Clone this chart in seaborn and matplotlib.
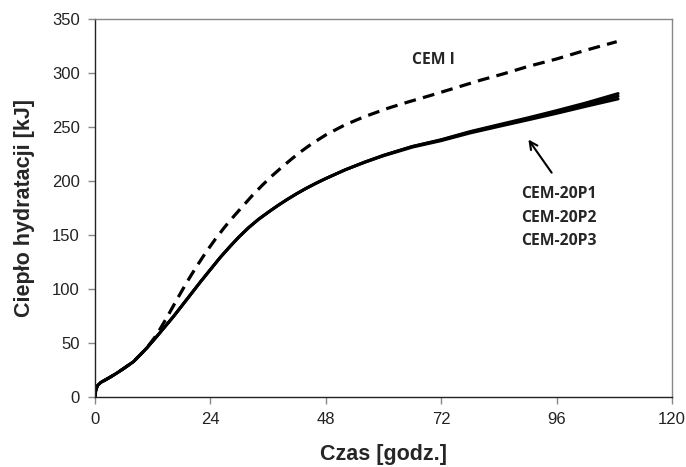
import matplotlib
matplotlib.use("Agg")
import matplotlib.pyplot as plt
import seaborn as sns
import pandas as pd

# Hydration heat curves (time in hours, heat in kJ)
time_blend = [0, 0.15, 0.5, 1.2, 2.1, 3.2, 4.5, 6, 8, 10.7, 12.8, 16.3, 19.8,
              22, 24, 26, 28, 30, 32, 34, 36, 38, 40, 42, 44, 46, 48, 52, 56,
              60, 66, 72, 78, 84, 90, 96, 102, 108.8]
heat_p1 = [0, 6, 10.5, 13.5, 15.7, 18.5, 22, 26.5, 32.7, 45, 55.8, 74.4, 94.4,
           107, 118, 129, 139, 148.5, 157, 164.5, 171, 177.2, 183, 188.4, 193.4,
           198, 202.3, 210.3, 217.4, 223.8, 232, 238.3, 245.8, 252.2, 258.5,
           265.2, 272.2, 281]
heat_p2 = [0, 6, 10.5, 13.5, 15.7, 18.5, 22, 26.5, 32.7, 45, 55.8, 74.4, 94.4,
           107, 118, 129, 139, 148.5, 157, 164.5, 171, 177.2, 183, 188.4, 193.4,
           198, 202.3, 210.3, 217.4, 223.8, 232, 238, 245.3, 251.5, 257.6,
           264, 270.7, 278.5]
heat_p3 = [0, 6, 10.5, 13.5, 15.7, 18.5, 22, 26.5, 32.7, 45, 55.8, 74.4, 94.4,
           107, 118, 129, 139, 148.5, 157, 164.5, 171, 177.2, 183, 188.4, 193.4,
           198, 202.3, 210.3, 217.1, 223.3, 231.3, 237.3, 244.4, 250.5,
           256.5, 262.6, 269, 276]

time_cem1 = [0, 0.15, 0.5, 1.2, 2.1, 3.2, 4.5, 6, 8, 10.7, 12.8, 15, 17, 19,
             21, 23, 25, 27, 29, 31, 33, 35, 37, 39, 41, 43, 45, 48, 52, 56,
             61, 65, 70, 75, 80, 85, 90, 96, 102, 108.5]
heat_cem1 = [0, 6, 10.5, 13.5, 15.7, 18.5, 22, 26.5, 32.7, 45, 57.4, 74, 90,
             105.5, 120, 133.5, 146, 157.5, 168, 178, 188, 197, 205.5, 213.3,
             220.8, 227.8, 234.2, 242.7, 252, 259.5, 267.5, 273, 279.5, 286.3,
             293.1, 299.3, 306, 313, 321, 329]

x_ticks = [0, 24, 48, 72, 96, 120]
y_ticks = [0, 50, 100, 150, 200, 250, 300, 350]

frames = []
for name, t, q in [("CEM-20P1", time_blend, heat_p1),
                   ("CEM-20P2", time_blend, heat_p2),
                   ("CEM-20P3", time_blend, heat_p3),
                   ("CEM I", time_cem1, heat_cem1)]:
    frames.append(pd.DataFrame({"czas": t, "cieplo": q, "cement": name}))
df = pd.concat(frames, ignore_index=True)

sns.set_style("white")
plt.rcParams["font.family"] = ["Liberation Sans", "DejaVu Sans"]

fig = plt.figure(figsize=(6.86, 4.67), dpi=100)
ax = fig.add_axes([95 / 686, 1 - 397 / 467, (672 - 95) / 686, (397 - 19) / 467])

blend = df[df["cement"] != "CEM I"]
sns.lineplot(data=blend, x="czas", y="cieplo", units="cement", estimator=None,
             color="black", linewidth=2.1, ax=ax, legend=False)
for ln in ax.lines:
    ln.set_solid_joinstyle("round")
sns.lineplot(data=df[df["cement"] == "CEM I"], x="czas", y="cieplo",
             color="black", linewidth=2.3, ax=ax, legend=False)
ax.lines[-1].set_linestyle((0, (3.7, 2.3)))

ax.set_xlim(0, 120)
ax.set_ylim(0, 350)
ax.set_xticks(x_ticks)
ax.set_yticks(y_ticks)
ax.set_xticklabels([str(v) for v in x_ticks], fontsize=12, color="#222222")
ax.set_yticklabels([str(v) for v in y_ticks], fontsize=12, color="#222222")
ax.tick_params(axis="both", direction="out", length=5, width=1, color="#888888",
               pad=6, bottom=True, left=True)

for side in ["left", "bottom"]:
    ax.spines[side].set_color("#222222")
    ax.spines[side].set_linewidth(1.0)
for side in ["top", "right"]:
    ax.spines[side].set_color("#888888")
    ax.spines[side].set_linewidth(1.0)

ax.set_xlabel("Czas [godz.]", fontsize=15.5, fontweight="bold", labelpad=12)
ax.set_ylabel("Ciepło hydratacji [kJ]", fontsize=15.5, fontweight="bold", labelpad=12)

label_font = ["Open Sans", "DejaVu Sans"]
ax.text(70.4, 312, "CEM I", fontsize=11.3, fontweight="bold", family=label_font,
        ha="center", va="center")
ax.text(96.5, 188, "CEM-20P1", fontsize=11.3, fontweight="bold", family=label_font,
        ha="center", va="center")
ax.text(96.5, 166, "CEM-20P2", fontsize=11.3, fontweight="bold", family=label_font,
        ha="center", va="center")
ax.text(96.5, 144, "CEM-20P3", fontsize=11.3, fontweight="bold", family=label_font,
        ha="center", va="center")
ax.annotate("", xy=(89.8, 240.5), xytext=(95.3, 205.6),
            arrowprops=dict(arrowstyle="->", color="black", lw=1.5,
                            mutation_scale=14))

fig.savefig("out.png", dpi=100, facecolor="white")
